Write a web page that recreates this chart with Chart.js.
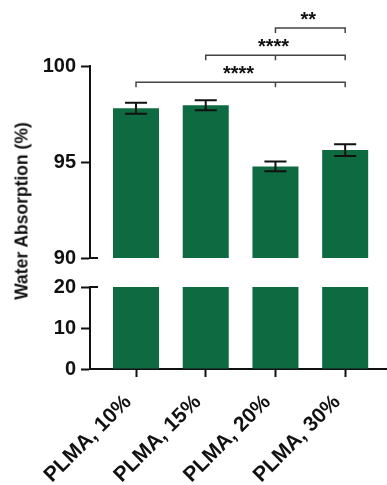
<!DOCTYPE html>
<html>
<head>
<meta charset="utf-8">
<script src="https://cdn.jsdelivr.net/npm/chart.js@4"></script>
<style>
  html, body { margin: 0; padding: 0; background: #fff; }
  #wrap { position: relative; width: 387px; height: 485px; overflow: hidden; }
  #wrap canvas { position: absolute; left: 0; }
  #top { top: 0; }
  #bottom { top: 270px; }
  #ytitle {
    position: absolute; left: 22px; top: 211px;
    transform: translate(-50%, -50%) rotate(-90deg);
    font: bold 17.5px "Liberation Sans", Arial, sans-serif;
    white-space: nowrap; color: #111;
  }
</style>
</head>
<body>
<div id="wrap">
  <canvas id="top" width="387" height="275"></canvas>
  <canvas id="bottom" width="387" height="215"></canvas>
  <div id="ytitle">Water Absorption (%)</div>
</div>
<script>
const categories = ['PLMA, 10%', 'PLMA, 15%', 'PLMA, 20%', 'PLMA, 30%'];
const means = [97.8, 97.95, 94.77, 95.62];
const sds = [0.29, 0.26, 0.25, 0.31];
const topRange = [90, 100];
const bottomRange = [0, 20];
// significance brackets: bar indexes, extra drop ticks, height in y units
const comparisons = [
  { from: 0, to: 3, mids: [2], level: 99.15, label: '****' },
  { from: 1, to: 3, mids: [2], level: 100.56, label: '****' },
  { from: 2, to: 3, mids: [], level: 101.98, label: '**' },
];

const FONT = '"Liberation Sans", Arial, sans-serif';
const GREEN = '#0e6a40';
const INK = '#111';

function xAxis(show) {
  return {
    type: 'linear', min: 0.34, max: 4.6, display: show, offset: false,
    afterBuildTicks: s => { s.ticks = categories.map((_, i) => ({ value: i + 1 })); },
    grid: { offset: false, drawOnChartArea: false, tickLength: 8, tickWidth: 2, tickColor: INK, color: INK },
    border: { color: INK, width: 2 },
    ticks: {
      autoSkip: false, minRotation: 45, maxRotation: 45, padding: 13, labelOffset: -8, color: INK,
      font: { family: FONT, size: 21, weight: 'bold' },
      callback: v => categories[v - 1] ?? '',
    },
    afterFit: s => { s.height = show ? 116 : 0; },
  };
}

function yAxis(range, step) {
  return {
    min: range[0], max: range[1],
    grid: { drawOnChartArea: false, tickLength: 9, tickWidth: 2, tickColor: INK },
    border: { color: INK, width: 2 },
    ticks: { stepSize: step, padding: 5, color: INK, font: { family: FONT, size: 20, weight: 'bold' } },
    afterFit: s => { s.width = 90; },
  };
}

// little cross tick where the axis is broken
function breakMark(atMax) {
  return {
    id: 'breakMark',
    afterDraw(chart) {
      const y = chart.scales.y;
      const py = y.getPixelForValue(atMax ? y.max : y.min);
      const ctx = chart.ctx;
      ctx.save();
      ctx.strokeStyle = INK;
      ctx.lineWidth = 2;
      ctx.beginPath();
      ctx.moveTo(chart.chartArea.left, py);
      ctx.lineTo(chart.chartArea.left + 8, py);
      ctx.stroke();
      ctx.restore();
    },
  };
}

const errorBars = {
  id: 'errorBars',
  afterDatasetsDraw(chart) {
    const ctx = chart.ctx;
    const x = chart.scales.x, y = chart.scales.y;
    const bars = chart.getDatasetMeta(0).data;
    ctx.save();
    ctx.strokeStyle = INK;
    ctx.lineWidth = 2;
    means.forEach((m, i) => {
      const px = x.getPixelForValue(i + 1);
      const hi = y.getPixelForValue(m + sds[i]);
      const lo = y.getPixelForValue(m - sds[i]);
      const cap = bars[i].width * 0.24;
      ctx.beginPath();
      ctx.moveTo(px, hi); ctx.lineTo(px, lo);
      ctx.moveTo(px - cap, hi); ctx.lineTo(px + cap, hi);
      ctx.moveTo(px - cap, lo); ctx.lineTo(px + cap, lo);
      ctx.stroke();
    });
    ctx.restore();
  },
};

const brackets = {
  id: 'brackets',
  afterDraw(chart) {
    const ctx = chart.ctx;
    const x = chart.scales.x, y = chart.scales.y;
    ctx.save();
    ctx.strokeStyle = '#444';
    ctx.lineWidth = 1.5;
    ctx.fillStyle = INK;
    ctx.font = `bold 20px ${FONT}`;
    ctx.textAlign = 'center';
    ctx.textBaseline = 'alphabetic';
    comparisons.forEach(c => {
      const py = y.getPixelForValue(c.level);
      const x1 = x.getPixelForValue(c.from + 1);
      const x2 = x.getPixelForValue(c.to + 1);
      ctx.beginPath();
      ctx.moveTo(x1, py + 5); ctx.lineTo(x1, py); ctx.lineTo(x2, py); ctx.lineTo(x2, py + 5);
      c.mids.forEach(m => {
        const pm = x.getPixelForValue(m + 1);
        ctx.moveTo(pm, py); ctx.lineTo(pm, py + 5);
      });
      ctx.stroke();
      ctx.fillText(c.label, (x1 + x2) / 2 - 2, py - 2);
    });
    ctx.restore();
  },
};

const barData = means.map((v, i) => ({ x: i + 1, y: v }));
const dataset = {
  data: barData, backgroundColor: GREEN, borderWidth: 0,
  barPercentage: 0.66, categoryPercentage: 1, clip: 0,
};

const common = {
  responsive: false, animation: false, devicePixelRatio: 1,
  plugins: { legend: { display: false }, tooltip: { enabled: false } },
};

new Chart(document.getElementById('top'), {
  type: 'bar',
  data: { datasets: [{ ...dataset }] },
  options: {
    ...common,
    layout: { padding: { top: 66, bottom: 13, left: 0, right: 0 } },
    scales: { x: xAxis(false), y: yAxis(topRange, 5) },
  },
  plugins: [errorBars, brackets, breakMark(false)],
});

new Chart(document.getElementById('bottom'), {
  type: 'bar',
  data: { datasets: [{ ...dataset }] },
  options: {
    ...common,
    layout: { padding: { top: 15, bottom: 0, left: 0, right: 0 } },
    scales: { x: xAxis(true), y: yAxis(bottomRange, 10) },
  },
  plugins: [breakMark(true)],
});
</script>
</body>
</html>
